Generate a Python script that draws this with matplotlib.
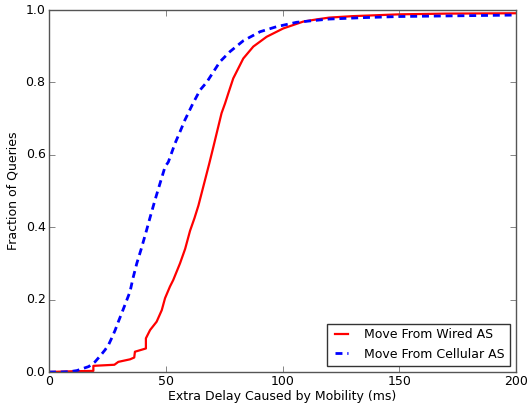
import matplotlib
matplotlib.use("Agg")
import matplotlib.pyplot as plt

wired_x = [0, 10, 19, 19, 28, 29.7, 34.7, 36.5, 36.8, 41.5, 41.5, 43.3, 46.1, 48.3, 49.7, 51.8,
           53.2, 56.1, 58.3, 60.4, 62.3, 64, 66.8, 68.6, 70.4, 72.2, 73.9, 75.4, 76.8, 78.9,
           83.2, 87.5, 93.2, 100.3, 108.9, 114.6, 120, 130, 150, 170, 200]
wired_y = [0, 0.002, 0.003, 0.017, 0.02, 0.028, 0.035, 0.04, 0.056, 0.065, 0.093, 0.116, 0.139,
           0.171, 0.204, 0.236, 0.254, 0.30, 0.34, 0.39, 0.425, 0.46, 0.53, 0.575, 0.622,
           0.67, 0.715, 0.742, 0.77, 0.811, 0.866, 0.899, 0.926, 0.949, 0.968, 0.974, 0.979,
           0.983, 0.988, 0.99, 0.991]

cell_x = [0, 5, 9, 12, 14.7, 17, 19.7, 22, 24, 25.5, 26.8, 28.3, 29.7, 31, 32.5, 34.7, 36, 37.6,
          39.5, 41.8, 43.2, 45.4, 47.5, 49.7, 51.1, 54, 56.2, 58.2, 61.5, 64.7, 67.5, 69, 71,
          73.2, 77.5, 83.2, 90.4, 97.5, 106, 112, 120, 135, 150, 175, 200]
cell_y = [0, 0, 0.001, 0.004, 0.01, 0.015, 0.028, 0.045, 0.061, 0.075, 0.093, 0.115, 0.139, 0.16,
          0.185, 0.222, 0.26, 0.30, 0.34, 0.392, 0.425, 0.475, 0.52, 0.567, 0.58, 0.632, 0.665,
          0.696, 0.74, 0.779, 0.80, 0.815, 0.835, 0.857, 0.885, 0.915, 0.94, 0.954, 0.966,
          0.97, 0.975, 0.979, 0.982, 0.984, 0.986]

plt.style.use('classic')
fs = 9
fig = plt.figure(figsize=(5.29, 4.08), dpi=100, facecolor='white')
ax = fig.add_axes([49/529, 1-372/408, (516-49)/529, (372-10)/408])
ax.plot(wired_x, wired_y, color='red', lw=1.6, label='Move From Wired AS')
ax.plot(cell_x, cell_y, color='blue', lw=2.0, ls='--', dashes=(5, 3.5), label='Move From Cellular AS')
ax.set_xlim(0, 200)
ax.set_ylim(0, 1.0)
ax.set_xticks([0, 50, 100, 150, 200])
ax.set_yticks([0.0, 0.2, 0.4, 0.6, 0.8, 1.0])
ax.tick_params(labelsize=fs, colors='#555555', labelcolor='black', pad=2.5)
ax.set_xlabel('Extra Delay Caused by Mobility (ms)', fontsize=fs, labelpad=1)
ax.set_ylabel('Fraction of Queries', fontsize=fs, labelpad=4)
for s in ax.spines.values():
    s.set_color('#555555')
leg = ax.legend(loc='lower right', fontsize=fs, fancybox=False, handlelength=1.6,
                handletextpad=1.0)
leg.get_frame().set_edgecolor('#333333')
fig.savefig('out.png', dpi=100, facecolor='white')
